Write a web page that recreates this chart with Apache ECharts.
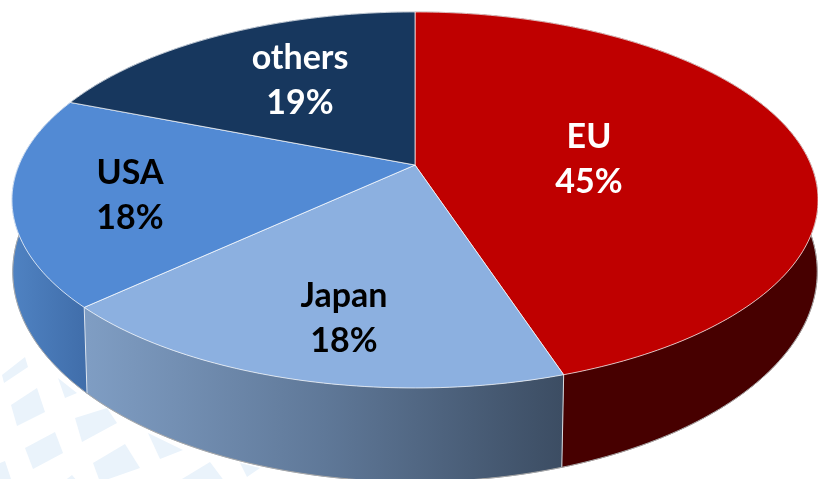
<!DOCTYPE html>
<html><head><meta charset="utf-8">
<style>html,body{margin:0;padding:0;background:#fff}#c{width:818px;height:479px}</style>
<script src="https://cdn.jsdelivr.net/npm/echarts@6/dist/echarts.min.js"></script>
</head><body><div id="c"></div>
<script>
const categories = ['EU', 'Japan', 'USA', 'others'];
const shares = [45, 18, 18, 19];

const topColors = ['#bf0000', '#8cb0e0', '#528ad4', '#17375e'];
const textColors = ['#ffffff', '#000000', '#000000', '#ffffff'];
const labelCenters = [[589, 160], [344, 319], [130, 196], [300, 81]];
const topView = {cx: 415, cy: 165, b: 396, a: 181.5, k: -0.186};
const floorView = {cx: 415, cy: 235, b: 396, a: 203.6, k: -0.175};
const backdropTiles = [
  [[2,375],[25,357],[28,367],[4,383]],
  [[11,405],[37,388],[45,412],[17,426]],
  [[25,448],[55,432],[63,453],[33,469]],
  [[75,418],[107,408],[117,423],[82,442]],
  [[93,463],[125,444],[140,468],[100,482]],
  [[58,378],[77,393],[65,398]],
  [[148,433],[183,450],[160,459]],
  [[177,482],[210,462],[225,482]],
  [[240,463],[260,468],[247,477]],
  [[0,463],[5,461],[12,482],[0,482]],
  [[63,482],[72,475],[78,482]]
];

const total = shares.reduce((s, v) => s + v, 0);
function project(view, turn, r) {
  const th = turn * 2 * Math.PI, u = r * Math.sin(th), v = -r * Math.cos(th);
  const d = 1 + view.k * v;
  return [view.cx + view.b * u / d, view.cy + view.a * v / d];
}
function arc(view, t0, t1) {
  const n = Math.max(8, Math.ceil((t1 - t0) * 360)), pts = [];
  for (let i = 0; i <= n; i++) pts.push(project(view, t0 + (t1 - t0) * i / n, 1));
  return pts;
}
function spanOf(idx) {
  let before = 0;
  for (let i = 0; i < idx; i++) before += shares[i];
  return [before / total, (before + shares[idx]) / total];
}
function wallFill(idx) {
  const G = echarts.graphic.LinearGradient;
  if (idx === 0) return '#470000';
  if (idx === 1) return new G(88, 0, 562, 0, [{offset: 0, color: '#7f9dc3'}, {offset: 0.5, color: '#5f7898'}, {offset: 1, color: '#3c4d63'}], true);
  if (idx === 2) return new G(12, 0, 92, 0, [{offset: 0, color: '#4f82c2'}, {offset: 1, color: '#3f6ca8'}], true);
  return '#17375e';
}
function renderWall(params, api) {
  const i = params.dataIndex, [t0, t1] = spanOf(i);
  const pts = arc(topView, t0, t1).concat(arc(floorView, t0, t1).reverse());
  const a = project(topView, t1, 1), b = project(floorView, t1, 1);
  return {type: 'group', children: [
    {type: 'polygon', shape: {points: pts}, style: {fill: wallFill(i), stroke: wallFill(i), lineWidth: 0.5}},
    {type: 'line', z2: 5, shape: {x1: a[0], y1: a[1], x2: b[0], y2: b[1]}, style: {stroke: 'rgba(255,255,255,0.8)', lineWidth: 1}}
  ]};
}
function renderTop(params, api) {
  const i = params.dataIndex, [t0, t1] = spanOf(i);
  const pts = [[topView.cx, topView.cy]].concat(arc(topView, t0, t1));
  const c = labelCenters[i];
  return {type: 'group', children: [
    {type: 'polygon', shape: {points: pts}, style: {fill: topColors[i], stroke: 'rgba(255,255,255,0.7)', lineWidth: 1}},
    {type: 'text', z2: 10, style: {x: c[0], y: c[1], text: categories[i] + '\n' + api.value(0) + '%',
      align: 'center', verticalAlign: 'middle', fill: textColors[i],
      font: '700 34px Lato', lineHeight: 45}}
  ]};
}
const floorEdge = {
  type: 'custom', coordinateSystem: 'none', silent: true, z: 3.5,
  data: [0],
  renderItem: () => ({type: 'polygon', shape: {points: arc(floorView, 0, 1)},
    style: {fill: 'none', stroke: '#a8a8a8', lineWidth: 1}})
};
const chart = echarts.init(document.getElementById('c'), null, {renderer: 'canvas'});
chart.setOption({
  animation: false,
  backgroundColor: '#ffffff',
  graphic: backdropTiles.map(p => ({type: 'polygon', z: 0, silent: true, shape: {points: p}, style: {fill: '#eaf3fb'}})),
  series: [
    {type: 'custom', coordinateSystem: 'none', z: 3, silent: true, data: shares.map(v => [v]), renderItem: renderWall},
    floorEdge,
    {type: 'custom', coordinateSystem: 'none', z: 4, silent: true, data: shares.map(v => [v]), renderItem: renderTop}
  ]
});
</script></body></html>
